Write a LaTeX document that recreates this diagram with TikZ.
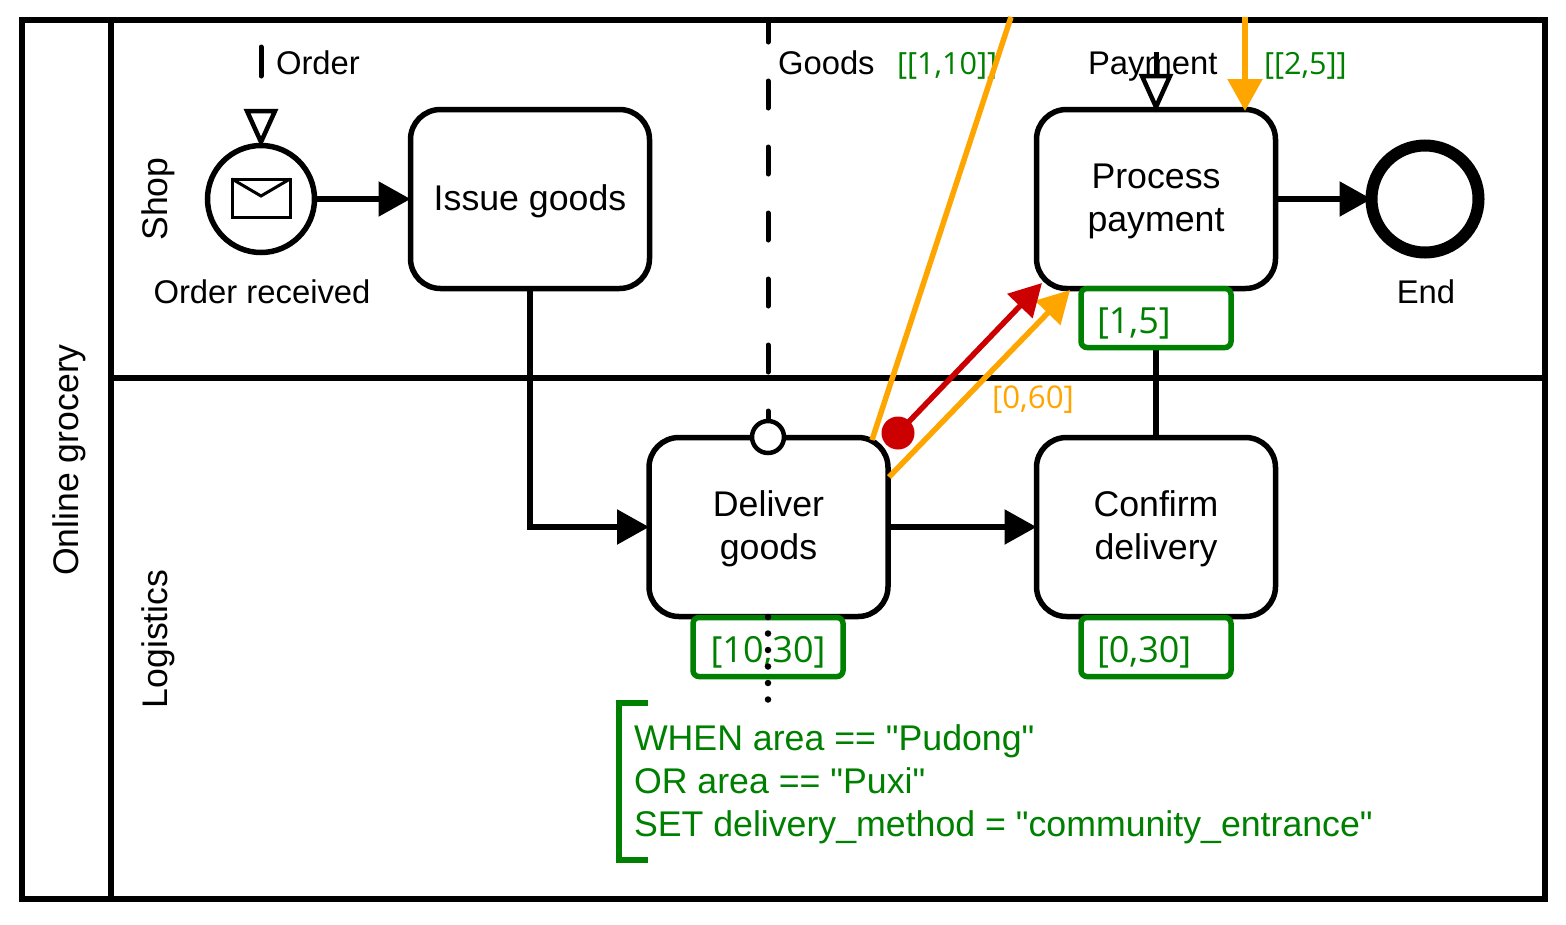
\documentclass[tikz,border=0pt]{standalone}
\usepackage{fontspec}
\setmainfont{Liberation Sans}
\newfontfamily\dataf{Open Sans}
\usetikzlibrary{arrows.meta}
\definecolor{gr}{HTML}{008000}
\definecolor{og}{HTML}{FFA500}
\definecolor{rd}{HTML}{CC0000}
\newcommand{\tup}{\rule{0pt}{30pt}}
\tikzset{
  lbl/.style={inner sep=0,outer sep=0,font=\fontsize{32.8}{43}\selectfont},
  lanelbl/.style={inner sep=0,outer sep=0,rotate=90,font=\fontsize{35.6}{43}\selectfont},
  tasknode/.style={draw,line width=5.5pt,rounded corners=30pt,minimum width=239pt,minimum height=179pt,inner sep=0,outer sep=0,align=center,font=\fontsize{35.7}{43}\selectfont,fill=white},
  dbox/.style={draw=gr,line width=5.5pt,rounded corners=6pt,fill=white,text=gr,text width=118pt,text height=32pt,text depth=2pt,inner xsep=16pt,inner ysep=0,minimum height=59pt,outer sep=0,font=\dataf\fontsize{36}{42}\selectfont},
  flow/.style={line width=5.5pt,-{Triangle[length=32pt,width=34pt]}},
  dat/.style={inner sep=0,outer sep=0,text=gr,font=\dataf\fontsize{30.6}{36}\selectfont},
  rulet/.style={inner sep=0,outer sep=0,anchor=base west,text=gr,font=\fontsize{35.7}{43}\selectfont},
  tri/.style={draw,line width=4.5pt,fill=white,line join=miter},
}
\begin{document}
\begin{tikzpicture}[x=1pt,y=-1pt]
\useasboundingbox (0,0) rectangle (1566,924);
\fill[white] (0,0) rectangle (1566,924);
% pool and lanes
\draw[line width=5.5pt] (22,20) rectangle (1545,899);
\draw[line width=5.5pt] (111,20) -- (111,899);
\draw[line width=5.5pt] (111,378) -- (1545,378);
\node[lanelbl] (pool) at (69,460) {Online grocery};
\node[lanelbl] (shop) at (158,199) {Shop};
\node[lanelbl] (logi) at (158,639) {Logistics};
% state lines
\coordinate (goodsTop) at (768,20);
\coordinate (goodsBot) at (768,437);
\draw[line width=5pt,line cap=round,dash pattern=on 27pt off 39pt,dash phase=5pt] (goodsTop) -- (goodsBot);
% nodes
\node[draw,circle,line width=5.5pt,minimum size=107pt,inner sep=0,outer sep=0,fill=white] (start) at (261,199) {};
\node[tasknode] (issue) at (530,199) {\tup Issue goods};
\node[tasknode] (process) at (1156,199) {\tup Process\\payment};
\node[tasknode] (deliver) at (768.5,527) {\tup Deliver\\goods};
\node[tasknode] (confirm) at (1156,527) {\tup Confirm\\delivery};
\node[draw,circle,line width=12pt,minimum size=107pt,inner sep=0,outer sep=0,fill=white] (endev) at (1425,199) {};
% connectors
\draw[flow] (start.east) -- (issue.west);
\draw[flow] (process.east) -- (endev.west);
\draw[flow] (issue.south) |- (deliver.west);
\draw[flow] (deliver.east) -- (confirm.west);
\draw[line width=5.5pt] (process.south) -- (confirm.north);
% envelope
\draw[line width=3pt] (232,179) rectangle (290,217);
\draw[line width=3pt] (232,179) -- (261,196) -- (290,179);
% markers
\coordinate (orderA) at (261,47);
\coordinate (orderB) at (261,76);
\draw[line width=5pt,line cap=round] (orderA) -- (orderB);
\draw[tri] (247,111) -- (275,111) -- (261,142) -- cycle;
\node[lbl,anchor=base west] (lorder) at (276,74) {Order};
\node[lbl,anchor=base west] (lgoods) at (778,74) {Goods};
\node[lbl,anchor=base west] (lpay) at (1088,74) {Payment};
\coordinate (payA) at (1156,52);
\coordinate (payB) at (1156,76);
\draw[line width=5pt] (payA) -- (payB);
\draw[tri] (1142,76) -- (1170,76) -- (1156,107) -- cycle;
\node[draw,circle,line width=4.5pt,minimum size=32pt,inner sep=0,outer sep=0,fill=white] (goodsMark) at (768,437) {};
% labels
\node[lbl,anchor=base] (lrec) at (262,303) {Order received};
\node[lbl,anchor=base] (lend) at (1426,303) {End};
\node[dat,anchor=base west] (d1) at (897,74) {[[1,10]]};
\node[dat,anchor=base west] (d2) at (1264,74) {[[2,5]]};
\node[dat,anchor=base west,text=og,font=\dataf\fontsize{31.3}{36}\selectfont] (d3) at (992,408) {[0,60]};
% duration boxes
\node[dbox,align=left] (b1) at (1156,318) {[1,5]};
\node[dbox,align=left] (b3) at (1156,647) {[0,30]};
\node[dbox,align=center] (b2) at (768,647) {[10,30]};
\coordinate (dotA) at (768,617);
\coordinate (dotB) at (768,700);
\draw[line width=6.5pt,line cap=round,dash pattern=on 0pt off 16.5pt] (dotA) -- (dotB);
% constraint flows
\coordinate (o1a) at (872,440);
\coordinate (o1b) at (1011,17);
\draw[og,line width=5.5pt] (o1a) -- (o1b);
\coordinate (o2a) at (1245,17);
\coordinate (o2b) at (1245,111);
\draw[og,flow] (o2a) -- (o2b);
\coordinate (o3a) at (889,477);
\coordinate (o3b) at (1070,290);
\draw[og,flow] (o3a) -- (o3b);
\coordinate (r1a) at (898,433);
\coordinate (r1b) at (1042,283);
\fill[rd] (r1a) circle (16.5pt);
\draw[rd,flow] (r1a) -- (r1b);
% rule
\draw[gr,line width=6pt] (648,703) -- (619,703) -- (619,860) -- (648,860);
\node[rulet] (rule1) at (634,750) {WHEN area == \textquotedbl Pudong\textquotedbl};
\node[rulet] (rule2) at (634,793) {OR area == \textquotedbl Puxi\textquotedbl};
\node[rulet] (rule3) at (634,836) {SET delivery\_method = \textquotedbl community\_entrance\textquotedbl};
\end{tikzpicture}
\end{document}
